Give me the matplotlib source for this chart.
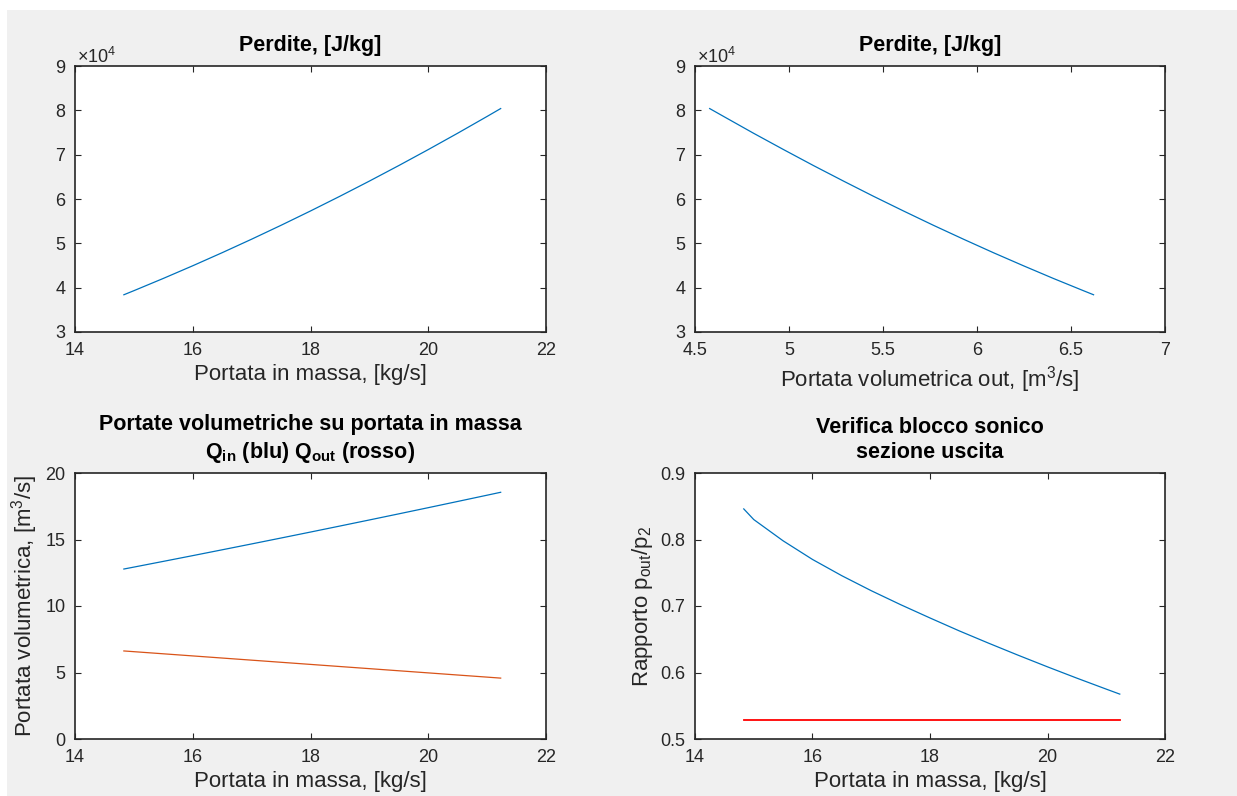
import matplotlib
matplotlib.use("Agg")
import matplotlib.pyplot as plt
from matplotlib.ticker import FuncFormatter, MultipleLocator
from matplotlib.patches import Rectangle

plt.rcParams['font.family'] = ['Liberation Sans', 'DejaVu Sans']
plt.rcParams['mathtext.fontset'] = 'custom'
plt.rcParams['mathtext.rm'] = 'Liberation Sans'
plt.rcParams['mathtext.it'] = 'Liberation Sans'
plt.rcParams['mathtext.bf'] = 'Liberation Sans:bold'

# Mass flow sweep [kg/s]
portata_massa = [14.83, 15.0, 15.5, 16.0, 16.5, 17.0, 17.5, 18.0, 18.5,
                 19.0, 19.5, 20.0, 20.5, 21.0, 21.23]
# Losses [J/kg]
perdite = [38400, 39318, 42084, 44941, 47892, 50934, 54071, 57300, 60623,
           64038, 67546, 71147, 74841, 78628, 80401]
# Volumetric flow at inlet / outlet [m^3/s]
q_in = [12.780, 12.925, 13.355, 13.788, 14.226, 14.667, 15.112, 15.560, 16.013,
        16.469, 16.929, 17.393, 17.861, 18.332, 18.550]
q_out = [6.620, 6.566, 6.406, 6.247, 6.087, 5.928, 5.768, 5.609, 5.449,
         5.290, 5.130, 4.971, 4.811, 4.652, 4.578]
# Outlet pressure ratio and critical ratio
rapporto_p = [0.846, 0.830, 0.798, 0.770, 0.7455, 0.7230, 0.7020, 0.6820, 0.6625,
              0.6440, 0.6260, 0.6085, 0.5915, 0.5750, 0.5675]
rapporto_critico = 0.528

BLU = '#0072BD'
ARANCIO = '#D95319'
ROSSO = '#FF0000'
GRIGIO = '#262626'

W, H = 1237, 796
fig = plt.figure(figsize=(W / 100, H / 100), dpi=100, facecolor='#F0F0F0')
# white strip on top and left edge of the window
fig.patches.append(Rectangle((0, (H - 10) / H), 1, 10 / H, transform=fig.transFigure,
                             facecolor='white', edgecolor='none', zorder=-10))
fig.patches.append(Rectangle((0, 0), 7 / W, 1, transform=fig.transFigure,
                             facecolor='white', edgecolor='none', zorder=-10))


def make_axes(x0, x1, y0, y1):
    ax = fig.add_axes([x0 / W, (H - y1) / H, (x1 - x0) / W, (y1 - y0) / H])
    ax.set_facecolor('white')
    for s in ax.spines.values():
        s.set_color(GRIGIO)
        s.set_linewidth(1.2)
    ax.tick_params(direction='in', length=4, width=0.8, colors=GRIGIO,
                   labelsize=13, top=True, right=True, pad=7)
    ax.xaxis.set_major_formatter(FuncFormatter(lambda v, p: '%g' % v))
    ax.yaxis.set_major_formatter(FuncFormatter(lambda v, p: '%g' % v))
    return ax


def add_multiplier(ax):
    ax.text(2 / 471, 1 + 3 / 266, r'$\times10^{4}$', transform=ax.transAxes,
            fontsize=13, color=GRIGIO, ha='left', va='baseline')


LAB = dict(fontsize=16, color=GRIGIO)
TIT = dict(fontsize=15.5, fontweight='bold', color='black', pad=10.5)

# Top-left: losses vs mass flow
ax1 = make_axes(75, 546, 66, 332)
ax1.plot(portata_massa, perdite, color=BLU, lw=0.9)
ax1.set_xlim(14, 22)
ax1.set_ylim(30000, 90000)
ax1.xaxis.set_major_locator(MultipleLocator(2))
ax1.yaxis.set_major_locator(MultipleLocator(10000))
ax1.yaxis.set_major_formatter(FuncFormatter(lambda v, p: '%g' % (v / 1e4)))
add_multiplier(ax1)
ax1.set_xlabel('Portata in massa, [kg/s]', **LAB)
ax1.set_title('Perdite, [J/kg]', **TIT)

# Top-right: losses vs outlet volumetric flow
ax2 = make_axes(695, 1165, 66, 332)
ax2.plot(q_out, perdite, color=BLU, lw=0.9)
ax2.set_xlim(4.5, 7)
ax2.set_ylim(30000, 90000)
ax2.xaxis.set_major_locator(MultipleLocator(0.5))
ax2.yaxis.set_major_locator(MultipleLocator(10000))
ax2.yaxis.set_major_formatter(FuncFormatter(lambda v, p: '%g' % (v / 1e4)))
add_multiplier(ax2)
ax2.set_xlabel(r'Portata volumetrica out, [m$^3$/s]', **LAB)
ax2.set_title('Perdite, [J/kg]', **TIT)

# Bottom-left: volumetric flows vs mass flow
ax3 = make_axes(75, 546, 473, 739)
ax3.plot(portata_massa, q_in, color=BLU, lw=0.9)
ax3.plot(portata_massa, q_out, color=ARANCIO, lw=0.9)
ax3.set_xlim(14, 22)
ax3.set_ylim(0, 20)
ax3.xaxis.set_major_locator(MultipleLocator(2))
ax3.yaxis.set_major_locator(MultipleLocator(5))
ax3.set_xlabel('Portata in massa, [kg/s]', **LAB)
ax3.set_ylabel(r'Portata volumetrica, [m$^3$/s]', **LAB)
ax3.set_title('Portate volumetriche su portata in massa\n'
              r'$\mathbf{Q_{in}}$ (blu) $\mathbf{Q_{out}}$ (rosso)',
              linespacing=1.3, **TIT)

# Bottom-right: sonic choking check at outlet section
ax4 = make_axes(695, 1165, 473, 739)
ax4.plot(portata_massa, rapporto_p, color=BLU, lw=0.9)
ax4.plot([portata_massa[0], portata_massa[-1]], [rapporto_critico, rapporto_critico],
         color=ROSSO, lw=1.3)
ax4.set_xlim(14, 22)
ax4.set_ylim(0.5, 0.9)
ax4.xaxis.set_major_locator(MultipleLocator(2))
ax4.yaxis.set_major_locator(MultipleLocator(0.1))
ax4.set_xlabel('Portata in massa, [kg/s]', **LAB)
ax4.set_ylabel(r'Rapporto p$_{out}$/p$_2$', **LAB)
ax4.set_title('Verifica blocco sonico\nsezione uscita', linespacing=1.3, **TIT)

fig.savefig('out.png', dpi=100, facecolor=fig.get_facecolor())
